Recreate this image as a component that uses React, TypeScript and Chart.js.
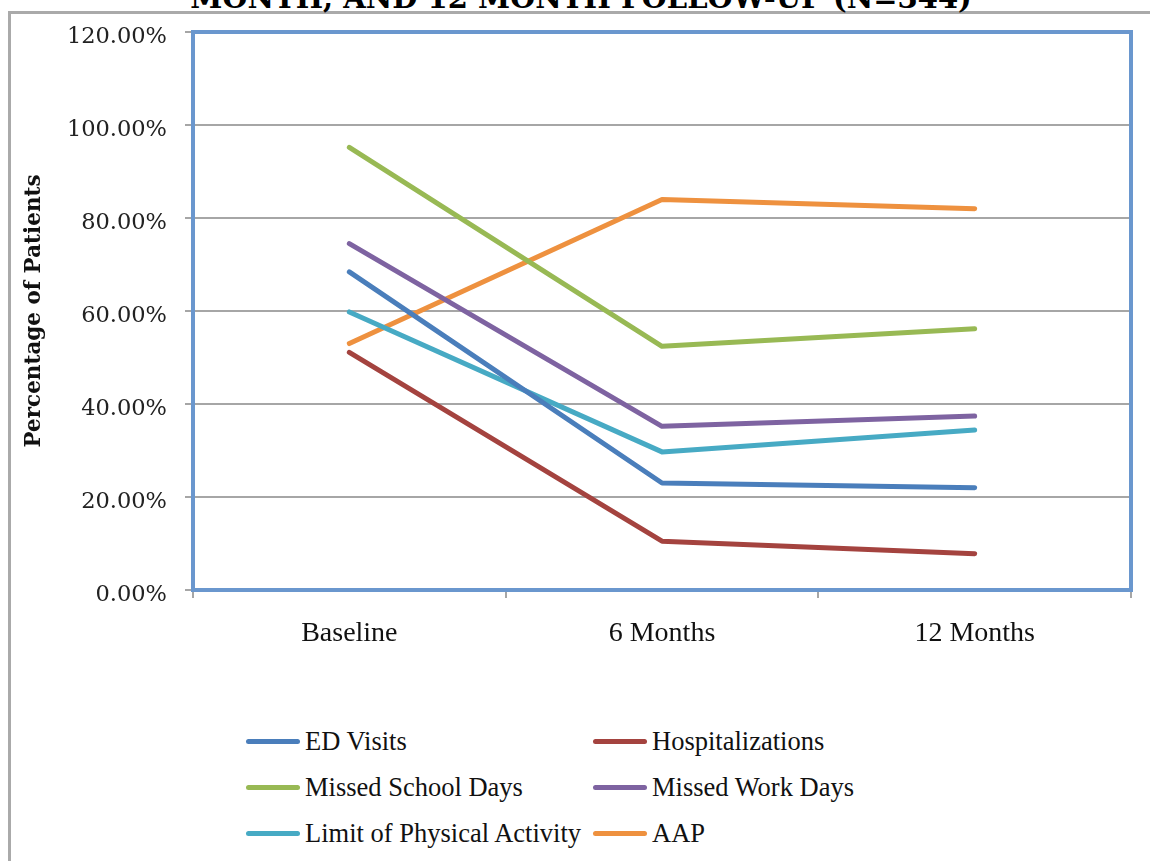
import React, { useEffect, useRef } from 'react';
import { Chart, registerables } from 'chart.js';

Chart.register(...registerables);

const categories = ['Baseline', '6 Months', '12 Months'];
const edVisits = [68.4, 23.0, 22.0];
const hospitalizations = [51.1, 10.5, 7.8];
const missedSchoolDays = [95.2, 52.4, 56.2];
const missedWorkDays = [74.5, 35.2, 37.4];
const limitOfPhysicalActivity = [59.8, 29.7, 34.4];
const aap = [53.0, 84.0, 82.0];

const seriesNames = [
  'ED Visits',
  'Hospitalizations',
  'Missed School Days',
  'Missed Work Days',
  'Limit of Physical Activity',
  'AAP',
];
const seriesValues = [edVisits, hospitalizations, missedSchoolDays, missedWorkDays, limitOfPhysicalActivity, aap];
const seriesColors = ['#4A7EBB', '#A4433F', '#98B954', '#7E63A1', '#47AAC4', '#EE913F'];

const yMin = 0;
const yMax = 120;
const yStep = 20;
const titleText = 'MONTH, AND 12 MONTH FOLLOW-UP (N=344)';
const yAxisTitle = 'Percentage of Patients';

const plotBorder = {
  id: 'plotBorder',
  beforeDatasetsDraw(chart: any) {
    const { ctx, chartArea: a } = chart;
    ctx.save();
    ctx.strokeStyle = '#6A97CE';
    ctx.lineWidth = 4;
    ctx.strokeRect(a.left, a.top, a.right - a.left, a.bottom - a.top);
    ctx.restore();
  },
};

// legend layout (two columns, three rows)
const legendCols = [246, 593];
const legendRows = [741, 787, 833];

export default function App() {
  const canvasRef = useRef<HTMLCanvasElement | null>(null);

  useEffect(() => {
    if (!canvasRef.current) return;
    const chart = new Chart(canvasRef.current, {
      type: 'line',
      data: {
        labels: categories,
        datasets: seriesNames.map((name, i) => ({
          label: name,
          data: seriesValues[i],
          borderColor: seriesColors[i],
          backgroundColor: seriesColors[i],
          borderWidth: 5,
          pointRadius: 0,
          pointHoverRadius: 0,
          borderCapStyle: 'round',
          borderJoinStyle: 'round',
          tension: 0,
        })),
      },
      options: {
        responsive: false,
        animation: false,
        devicePixelRatio: 1,
        layout: { padding: { left: 8, top: 32, right: 19, bottom: 0 } },
        plugins: {
          legend: { display: false },
          tooltip: { enabled: false },
          title: { display: false },
        },
        scales: {
          x: {
            offset: true,
            grid: {
              offset: true,
              drawOnChartArea: false,
              drawTicks: true,
              tickLength: 8,
              color: '#A6A6A6',
              lineWidth: 2,
            },
            border: { display: false },
            ticks: {
              font: { family: 'Liberation Serif', size: 28 },
              color: '#111111',
              padding: 19,
              maxRotation: 0,
            },
            afterFit: (s: any) => {
              s.height = 130;
            },
          },
          y: {
            min: yMin,
            max: yMax,
            ticks: {
              stepSize: yStep,
              callback: (v: any) => Number(v).toFixed(2) + '%',
              font: { family: 'DejaVu Serif', size: 22.5 },
              color: '#222222',
              padding: 18,
              labelOffset: 5,
            },
            grid: {
              color: '#A6A6A6',
              lineWidth: 2,
              tickLength: 8,
              drawTicks: true,
            },
            border: { display: false },
            title: {
              display: true,
              text: yAxisTitle,
              font: { family: 'DejaVu Serif', size: 21.5, weight: 'bold' },
              color: '#111111',
              padding: { top: 14, bottom: 0 },
            },
            afterFit: (s: any) => {
              s.width = 185;
            },
          },
        },
      },
      plugins: [plotBorder],
    } as any);
    return () => chart.destroy();
  }, []);

  return (
    <div
      style={{
        position: 'fixed',
        left: 0,
        top: 0,
        width: 1150,
        height: 861,
        overflow: 'hidden',
        background: '#ffffff',
      }}
    >
      <div
        style={{
          position: 'absolute',
          left: 8,
          top: 11,
          width: 2000,
          height: 2000,
          borderTop: '3px solid #AAAAAA',
          borderLeft: '3px solid #AAAAAA',
          boxSizing: 'border-box',
        }}
      />
      <div
        style={{
          position: 'absolute',
          left: 6,
          top: -16,
          width: 1150,
          textAlign: 'center',
          fontFamily: 'DejaVu Serif',
          fontWeight: 'bold',
          fontSize: 29,
          lineHeight: '29px',
          color: '#000',
          whiteSpace: 'nowrap',
        }}
      >
        {titleText}
      </div>
      <canvas
        ref={canvasRef}
        width={1150}
        height={720}
        style={{ position: 'absolute', left: 0, top: 0, width: 1150, height: 720 }}
      />
      {seriesNames.map((name, i) => (
        <div
          key={name}
          style={{
            position: 'absolute',
            left: legendCols[i % 2],
            top: legendRows[Math.floor(i / 2)] - 20,
            height: 40,
            display: 'flex',
            alignItems: 'center',
            whiteSpace: 'nowrap',
          }}
        >
          <span
            style={{
              display: 'inline-block',
              width: 54,
              height: 5,
              borderRadius: 3,
              background: seriesColors[i],
              marginRight: 5,
            }}
          />
          <span style={{ fontFamily: 'Liberation Serif', fontSize: 26.5, color: '#111111' }}>{name}</span>
        </div>
      ))}
    </div>
  );
}
